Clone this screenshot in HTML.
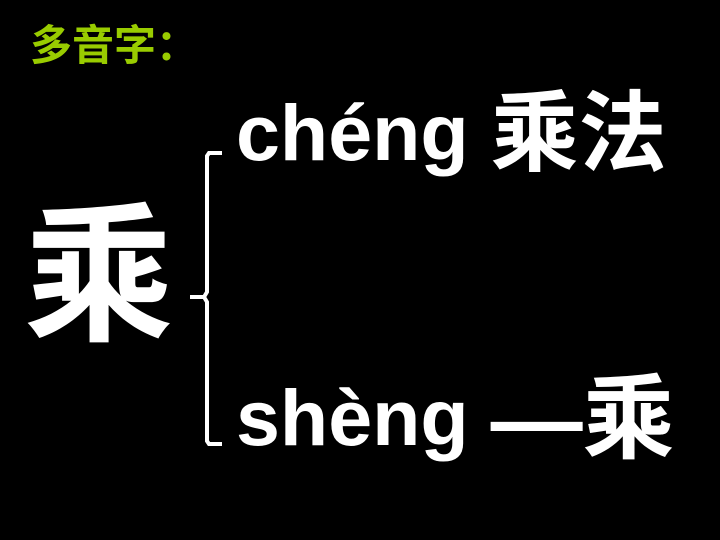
<!DOCTYPE html>
<html><head><meta charset="utf-8"><style>
html,body{margin:0;padding:0;background:#000;}
#s{position:relative;width:720px;height:540px;overflow:hidden;background:#000;font-family:"Liberation Sans","Noto Sans CJK SC",sans-serif;font-weight:bold;color:#fff;}
.t{position:absolute;white-space:nowrap;line-height:1;}
</style></head><body>
<div id="s">
<div class="t" style="left:30px;top:25px;font-size:42px;color:#99cc00;">多音字：</div>
<div class="t" style="left:24px;top:202px;font-size:150px;">乘</div>
<svg style="position:absolute;left:0;top:0" width="720" height="540">
<path d="M222 153 L209 153 L207 156 L207 292 L204 297 L190 297 M204 297 L207 302 L207 441 L209 444 L222 444" stroke="#fff" stroke-width="4" fill="none"/>
</svg>
<div class="t" style="left:236px;top:86px;font-size:79px;">chéng <span style="font-size:88px;position:relative;top:4px">乘法</span></div>
<div class="t" style="left:236px;top:368px;font-size:79px;">shèng <span style="font-size:92px;position:relative;top:6px">—乘</span></div>
</div>
</body></html>
